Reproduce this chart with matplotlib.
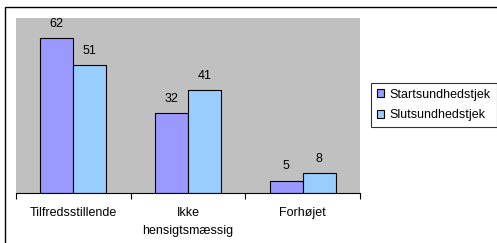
import matplotlib
matplotlib.use("Agg")
import matplotlib.pyplot as plt
from matplotlib.patches import Rectangle
import numpy as np

categories = ["Tilfredsstillende", "Ikke\nhensigtsmæssig", "Forhøjet"]
series_names = ["Startsundhedstjek", "Slutsundhedstjek"]
start_vals = [62, 32, 5]
slut_vals = [51, 41, 8]

W, H = 497, 243
fig = plt.figure(figsize=(W / 100, H / 100), dpi=100)
plt.rcParams['font.family'] = ['Liberation Sans', 'DejaVu Sans']
FS = 9

# outer border
fig.patches.append(Rectangle((5 / W, -0.1), 1.2, 1 - 7 / H + 0.1, transform=fig.transFigure,
                             fill=False, edgecolor='black', linewidth=1.0))

x0, x1 = 16, 360
y0, y1 = 193, 18
ax = fig.add_axes([x0 / W, 1 - y0 / H, (x1 - x0) / W, (y0 - y1) / H])
ax.set_facecolor('#C0C0C0')
for s in ['top', 'right', 'left']:
    ax.spines[s].set_visible(False)
ax.spines['bottom'].set_linewidth(0.8)

x = np.arange(len(categories))
bw = 0.2875
b1 = ax.bar(x - bw / 2, start_vals, bw, color='#9999FF', edgecolor='black', linewidth=0.8)
b2 = ax.bar(x + bw / 2, slut_vals, bw, color='#99CCFF', edgecolor='black', linewidth=0.8)
for bars in (b1, b2):
    for r in bars:
        ax.annotate(f"{int(r.get_height())}", (r.get_x() + r.get_width() / 2, r.get_height()),
                    xytext=(0, 6), textcoords='offset points', ha='center', va='bottom', fontsize=FS)

ax.set_xlim(-0.5, len(categories) - 0.5)
ax.set_ylim(0, 70)
ax.set_yticks([])
ax.set_xticks(np.arange(len(categories) + 1) - 0.5, minor=False)
ax.set_xticklabels([])
ax.tick_params(axis='x', which='major', length=4, width=0.8, direction='out')
ax.set_xticks(x, minor=True)
ax.set_xticklabels(categories, minor=True, fontsize=FS, linespacing=1.65)
ax.tick_params(axis='x', which='minor', length=0, pad=10)

leg = fig.legend([b1, b2], series_names, loc='upper left',
                 bbox_to_anchor=(371 / W, 1 - 83 / H), fontsize=FS, frameon=True,
                 fancybox=False, edgecolor='black', handlelength=0.6, handleheight=0.6,
                 handletextpad=0.45, borderpad=0.45, labelspacing=0.7, borderaxespad=0)
leg.get_frame().set_linewidth(0.8)

fig.savefig("out.png", dpi=100)
